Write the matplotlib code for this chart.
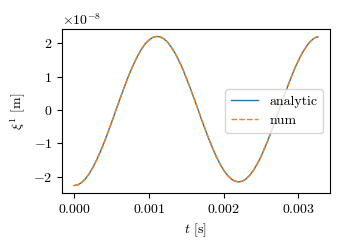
import numpy as np
import matplotlib
matplotlib.use("Agg")
import matplotlib.pyplot as plt

# valores (t en s, xi en unidades de 1e-8 m)
t = [0.0, 0.00005, 0.0001, 0.00015, 0.0002, 0.00025, 0.0003, 0.00035,
     0.0004, 0.00045, 0.0005, 0.00055, 0.0006, 0.00065, 0.0007, 0.00075,
     0.0008, 0.00085, 0.0009, 0.00095, 0.0010, 0.00105, 0.0011, 0.00115,
     0.0012, 0.00125, 0.0013, 0.00135, 0.0014, 0.00145, 0.0015, 0.00155,
     0.0016, 0.00165, 0.0017, 0.00175, 0.0018, 0.00185, 0.0019, 0.00195,
     0.0020, 0.00205, 0.0021, 0.00215, 0.0022, 0.00225, 0.0023, 0.00235,
     0.0024, 0.00245, 0.0025, 0.00255, 0.0026, 0.00265, 0.0027, 0.00275,
     0.0028, 0.00285, 0.0029, 0.00295, 0.0030, 0.00305, 0.0031, 0.00315,
     0.0032, 0.00323, 0.00326]
xi_analytic = [-2.26, -2.24, -2.17, -2.06, -1.91, -1.72, -1.50, -1.25,
               -0.98, -0.68, -0.38, -0.06, 0.25, 0.56, 0.86, 1.14,
               1.39, 1.62, 1.82, 1.98, 2.09, 2.17, 2.20, 2.19,
               2.13, 2.03, 1.88, 1.70, 1.48, 1.24, 0.96, 0.67,
               0.37, 0.06, -0.26, -0.56, -0.86, -1.13, -1.39, -1.61,
               -1.80, -1.95, -2.06, -2.13, -2.15, -2.13, -2.06, -1.95,
               -1.80, -1.61, -1.39, -1.13, -0.86, -0.56, -0.26, 0.06,
               0.37, 0.67, 0.96, 1.24, 1.48, 1.70, 1.88, 2.03,
               2.13, 2.17, 2.19]
xi_num = list(xi_analytic)

plt.rcParams['font.family'] = 'serif'
plt.rcParams['font.serif'] = ['cmr10', 'DejaVu Serif']
plt.rcParams['mathtext.fontset'] = 'cm'
plt.rcParams['axes.formatter.use_mathtext'] = True
plt.rcParams['font.size'] = 10

fig, ax = plt.subplots(figsize=(3.5, 2.5), dpi=100)
ax.plot(t, np.array(xi_analytic) * 1e-8, lw=1.0, label='analytic')
ax.plot(t, np.array(xi_num) * 1e-8, lw=1.0, ls=(0, (4, 1.6)), label='num')
ax.set_xlabel(r'$t$ [s]')
ax.set_ylabel(r'$\xi^1$ [m]')
ax.set_xticks([0.0, 0.001, 0.002, 0.003])
ax.legend(loc='center right')
fig.subplots_adjust(left=0.177, right=0.943, bottom=0.228, top=0.884)
fig.savefig('out.png')
